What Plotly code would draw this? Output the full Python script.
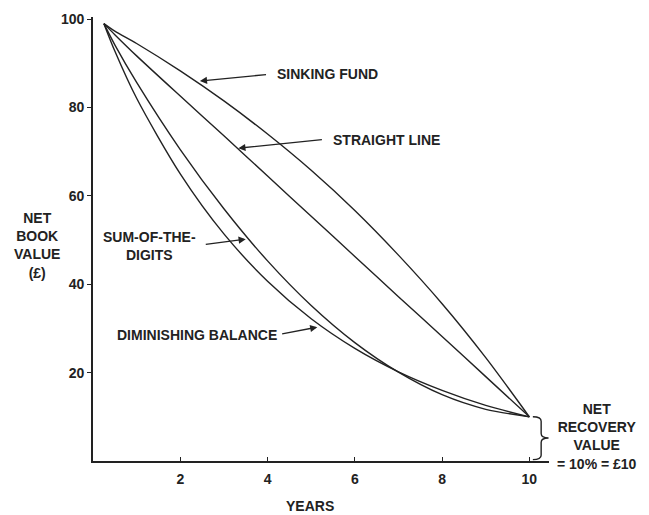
import plotly.graph_objects as go

# Data (years vs net book value, £)
years = [0.25, 0.5, 1, 2, 3, 4, 5, 6, 7, 8, 9, 10]
sinking_fund = [99, 97.3, 94.5, 88.3, 81.5, 74.0, 65.8, 56.7, 46.6, 35.6, 23.4, 10]
straight_line = [99, 96.5, 91.7, 82.6, 73.6, 64.5, 55.4, 46.3, 37.2, 28.2, 19.1, 10]
sum_of_digits = [99, 94.2, 85.7, 70.5, 57.1, 45.3, 35.2, 26.8, 20.1, 15.0, 11.7, 10]
diminishing = [99, 92.8, 82.1, 65.0, 51.4, 40.7, 32.2, 25.5, 20.2, 16.0, 12.6, 10]

x_ticks = [2, 4, 6, 8, 10]
y_ticks = [20, 40, 60, 80, 100]

INK = "#222222"
FONT = "Liberation Sans, Arial, sans-serif"
FS = 14

fig = go.Figure()
for name, vals in [("Sinking fund", sinking_fund), ("Straight line", straight_line),
                   ("Sum-of-the-digits", sum_of_digits), ("Diminishing balance", diminishing)]:
    fig.add_trace(go.Scatter(x=years, y=vals, mode="lines", name=name,
                             line=dict(color=INK, width=1.4, shape="spline", smoothing=0.8),
                             showlegend=False, hoverinfo="skip"))

def label(text, x, y, xanchor="center"):
    fig.add_annotation(x=x, y=y, xref="x", yref="y", text=text, showarrow=False,
                       xanchor=xanchor, yanchor="middle", align="center",
                       font=dict(family=FONT, size=FS, color=INK))

def arrow(x_tip, y_tip, x_tail, y_tail):
    fig.add_annotation(x=x_tip, y=y_tip, ax=x_tail, ay=y_tail, xref="x", yref="y",
                       axref="x", ayref="y", text="", showarrow=True,
                       arrowhead=2, arrowsize=1.1, arrowwidth=1.3, arrowcolor=INK)

# Labels and arrows
label("<b>SINKING FUND</b>", 4.17, 87.5, "left")
arrow(2.45, 86.0, 4.0, 87.5)
label("<b>STRAIGHT LINE</b>", 5.45, 72.6, "left")
arrow(3.33, 70.8, 5.28, 72.8)
label("<b>SUM-OF-THE-<br>DIGITS</b>", 1.3, 48.7)
arrow(3.5, 50.2, 2.55, 49.0)
label("<b>DIMINISHING BALANCE</b>", 0.5, 28.5, "left")
arrow(5.14, 30.3, 4.3, 28.7)

# Brace for net recovery value
fig.add_shape(type="path", xref="x", yref="y",
              path="M 10.08,10 Q 10.27,10 10.27,9 L 10.27,6.2 Q 10.27,5.2 10.44,5.2 "
                   "Q 10.27,5.2 10.27,4.2 L 10.27,1.3 Q 10.27,0.3 10.08,0.3",
              line=dict(color=INK, width=1.4))

fig.add_annotation(xref="paper", yref="paper", x=1.106, y=0.055,
                   text="<b>NET<br>RECOVERY<br>VALUE<br>= 10% = £10</b>",
                   showarrow=False, xanchor="center", yanchor="middle", align="center",
                   font=dict(family=FONT, size=FS, color=INK))

# Axis titles
fig.add_annotation(xref="paper", yref="paper", x=-0.123, y=0.486,
                   text="<b>NET<br>BOOK<br>VALUE<br>(£)</b>", showarrow=False,
                   xanchor="center", yanchor="middle", align="center",
                   font=dict(family=FONT, size=FS, color=INK))
fig.add_annotation(xref="paper", yref="paper", x=0.476, y=-0.101,
                   text="<b>YEARS</b>", showarrow=False, xanchor="center", yanchor="middle",
                   font=dict(family=FONT, size=FS, color=INK))

fig.update_xaxes(range=[0, 10.45], tickvals=x_ticks, ticktext=[f"<b>{v}</b>" for v in x_ticks],
                 showgrid=False, zeroline=False, showline=True, linecolor=INK, linewidth=1.6,
                 ticks="inside", ticklen=4, tickwidth=1.4, tickcolor=INK, ticklabelstandoff=4,
                 tickfont=dict(family=FONT, size=FS, color=INK))
fig.update_yaxes(range=[0, 100.5], tickvals=y_ticks, ticktext=[f"<b>{v}</b>" for v in y_ticks],
                 showgrid=False, zeroline=False, showline=True, linecolor=INK, linewidth=1.6,
                 ticks="outside", ticklen=4, tickwidth=1.4, tickcolor=INK,
                 tickfont=dict(family=FONT, size=FS, color=INK))

fig.update_layout(width=649, height=515, margin=dict(l=85, r=108, t=9, b=62, autoexpand=False),
                  plot_bgcolor="white", paper_bgcolor="white")

fig.write_html("out.html")
